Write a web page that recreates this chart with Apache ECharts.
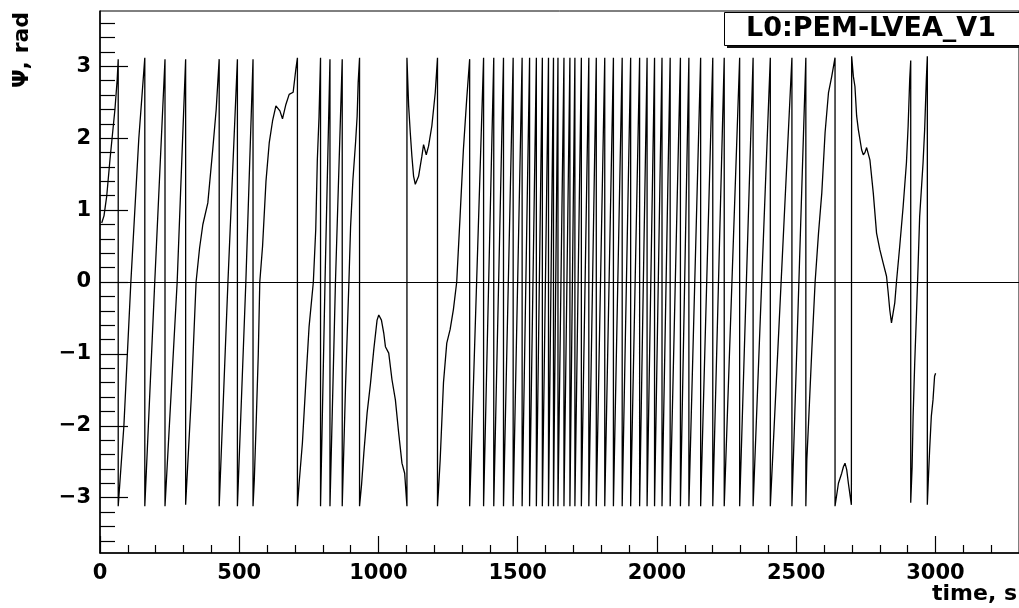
<!DOCTYPE html>
<html>
<head>
<meta charset="utf-8">
<title>L0:PEM-LVEA_V1 phase</title>
<script src="https://cdn.jsdelivr.net/npm/echarts@6.0.0/dist/echarts.min.js"></script>
<style>
  html, body { margin: 0; padding: 0; background: #fff; }
  #chart { width: 1019px; height: 608px; }
</style>
</head>
<body>
<div id="chart"></div>
<script>
// phase Psi (rad) vs time (s)
// first part (0 - 1330 s): slow, partly curved ramps
var earlyPts = [
  [6.1, 0.82], [14.3, 0.92], [24.0, 1.19], [35.8, 1.70], [45.4, 2.08], [53.6, 2.40], [61.8, 2.82], [65.4, 3.10],
  [65.4, -3.12], [85.8, -2.0], [110.8, 0], [139.4, 2.0], [160.9, 3.12],
  [160.9, -3.12], [196.6, 0], [233.4, 3.10],
  [233.4, -3.12], [277.1, 0], [307.5, 3.10],
  [307.5, -3.10], [327.8, -1.6], [345.0, 0], [357.5, 0.47], [369.3, 0.8], [387.2, 1.1], [405.0, 1.85], [417.2, 2.4], [428.0, 3.10],
  [428.0, -3.12], [459.4, 0], [493.4, 3.10],
  [493.4, -3.12], [523.7, 0], [549.5, 3.10],
  [549.5, -3.12], [554.1, -2.75], [561.3, -1.9], [568.4, -1.0], [573.8, 0], [583.8, 0.5], [596.0, 1.4], [607.8, 1.94],
  [619.6, 2.24], [631.7, 2.45], [637.4, 2.47], [646.0, 2.38], [655.3, 2.27], [667.5, 2.47], [679.3, 2.61], [693.6, 2.64],
  [703.2, 2.96], [708.9, 3.12],
  [708.9, -3.12], [715.0, -2.8], [726.8, -2.24], [738.9, -1.41], [750.8, -0.62], [766.1, 0], [774.7, 0.73], [780.4, 1.7],
  [786.5, 2.3], [791.9, 3.12],
  [791.9, -3.12], [808.0, 0], [825.8, 3.10],
  [825.8, -3.12], [845.5, 0], [869.8, 3.10],
  [869.8, -3.12], [882.0, -1.41], [893.8, 0], [899.8, 0.77], [908.1, 1.42], [917.7, 1.94], [923.4, 2.31], [927.0, 2.77], [932.0, 3.12],
  [932.0, -3.12], [939.2, -2.82], [947.4, -2.38], [959.2, -1.82], [971.3, -1.41], [983.1, -0.94], [994.9, -0.53], [1001, -0.46],
  [1010.6, -0.53], [1018.9, -0.71], [1024.9, -0.9], [1036.8, -0.99], [1048.5, -1.36], [1060.7, -1.64], [1072.5, -2.1],
  [1084.3, -2.52], [1094, -2.66], [1102.2, -3.12],
  [1102.2, 3.12], [1108.3, 2.45], [1114.3, 2.07], [1120.0, 1.75], [1126.1, 1.47], [1132.2, 1.36], [1144.0, 1.47], [1155.8, 1.75],
  [1161.9, 1.91], [1171.5, 1.77], [1179.8, 1.89], [1191.6, 2.17], [1203.7, 2.63], [1211.9, 3.12],
  [1211.9, -3.12], [1215.5, -2.89], [1221.6, -2.47], [1233.4, -1.40], [1245.2, -0.85], [1257.3, -0.66], [1269.1, -0.38],
  [1280.9, 0], [1293.1, 0.92], [1304.9, 1.84], [1316.7, 2.54], [1327.4, 3.10]
];

// dense part: times (s) where the phase wraps from +pi to -pi
var wrapTimes = [
  1327.4, 1377.4, 1413.9, 1448.9, 1483.6, 1515.8, 1542.6, 1566.9, 1588.4, 1610.5,
  1628.4, 1644.5, 1666, 1687.4, 1705.3, 1728.5, 1755.3, 1782.1, 1812.5, 1843.6,
  1875.1, 1905.5, 1937.7, 1964.5, 1991.3, 2018.1, 2047.4, 2084.2, 2114.6, 2156.8,
  2200.4, 2241.5, 2296.9, 2345.2, 2407.0, 2484.6, 2534.6
];
var wrapTop = 3.12, wrapBottom = -3.12;

// last part (2535 - 3000 s)
var latePts = [
  [2534.6, -3.12], [2538.2, -2.47], [2544.3, -1.96], [2556.1, -0.94], [2567.9, 0], [2580.1, 0.68], [2591.9, 1.24],
  [2603.7, 2.08], [2615.8, 2.63], [2627.6, 2.86], [2639.4, 3.12],
  [2639.4, -3.12], [2651.6, -2.8], [2663.4, -2.66], [2669.5, -2.57], [2675.2, -2.52], [2681.3, -2.61], [2687.3, -2.8], [2698.1, -3.1],
  [2699.1, 3.14], [2705.2, 2.86], [2710.9, 2.72], [2717, 2.31], [2723.1, 2.12], [2734.9, 1.84], [2740.9, 1.77], [2746.7, 1.80],
  [2752.8, 1.87], [2758.8, 1.87], [2764.6, 1.70], [2776.7, 1.24], [2788.5, 0.68], [2800.3, 0.45], [2812.5, 0.26], [2824.3, 0.08],
  [2830.3, -0.15], [2836.0, -0.39], [2842.1, -0.57], [2848.2, -0.55], [2853.9, -0.29], [2860, 0], [2871.8, 0.5], [2884, 1.05],
  [2895.8, 1.66], [2901.9, 2.17], [2907.6, 2.82], [2911.2, 3.08],
  [2911.2, -3.07], [2916.2, -2.57], [2919.8, -1.87], [2925.5, -1.13], [2931.5, -0.48], [2937.6, 0.22], [2943.3, 0.91],
  [2955.5, 1.66], [2961.2, 2.12], [2967.3, 2.82], [2970.8, 3.14],
  [2970.8, -3.1], [2974.4, -2.75], [2979.0, -2.34], [2985.1, -1.87], [2991.2, -1.64], [2996.9, -1.31], [3000.5, -1.27]
];

// axis ticks
var xMajor = [0, 500, 1000, 1500, 2000, 2500, 3000];
var xMinor = [100, 200, 300, 400, 600, 700, 800, 900, 1100, 1200, 1300, 1400, 1600, 1700, 1800, 1900,
  2100, 2200, 2300, 2400, 2600, 2700, 2800, 2900, 3100, 3200];
var yMajor = [-3, -2, -1, 0, 1, 2, 3];
var yMinor = [-3.6, -3.4, -3.2, -2.8, -2.6, -2.4, -2.2, -1.8, -1.6, -1.4, -1.2, -0.8, -0.6, -0.4, -0.2,
  0.2, 0.4, 0.6, 0.8, 1.2, 1.4, 1.6, 1.8, 2.2, 2.4, 2.6, 2.8, 3.2, 3.4, 3.6];

// join the pieces into one polyline (wraps show as vertical jumps)
var phase = earlyPts.slice();
for (var i = 0; i < wrapTimes.length - 1; i++) {
  phase.push([wrapTimes[i], wrapBottom]);
  phase.push([wrapTimes[i + 1], wrapTop]);
}
phase = phase.concat(latePts);

var font = 'DejaVu Sans';
var labelStyle = { color: '#000', fontFamily: font, fontWeight: 'bold', fontSize: 21 };

var chart = echarts.init(document.getElementById('chart'), null, { renderer: 'canvas' });
var option = {
  animation: false,
  backgroundColor: '#fff',
  grid: { left: 100, top: 11, width: 923, height: 542, show: true, borderColor: '#000', borderWidth: 1, backgroundColor: 'transparent' },
  xAxis: [
    {
      type: 'value', min: 0, max: 3300, position: 'bottom',
      axisLine: { show: true, onZero: false, lineStyle: { color: '#000', width: 1.5 } },
      axisTick: { show: true, inside: true, length: 17, customValues: xMajor, lineStyle: { color: '#000', width: 1.2 } },
      axisLabel: Object.assign({
        margin: 10, customValues: xMajor,
        formatter: function (v) { return String(v); }
      }, labelStyle),
      splitLine: { show: false }
    },
    {
      type: 'value', min: 0, max: 3300, position: 'bottom',
      axisLine: { show: false, onZero: false },
      axisTick: { show: true, inside: true, length: 8, customValues: xMinor, lineStyle: { color: '#000', width: 1.2 } },
      axisLabel: { show: false },
      splitLine: { show: false }
    }
  ],
  yAxis: [
    {
      type: 'value', min: -3.77, max: 3.77, position: 'left',
      axisLine: { show: true, onZero: false, lineStyle: { color: '#000', width: 1.5 } },
      axisTick: { show: true, inside: true, length: 28, customValues: yMajor, lineStyle: { color: '#000', width: 1.2 } },
      axisLabel: Object.assign({
        margin: 9, customValues: yMajor,
        formatter: function (v) { return v < 0 ? '\u2212' + Math.abs(v) : String(v); }
      }, labelStyle),
      splitLine: { show: false }
    },
    {
      type: 'value', min: -3.77, max: 3.77, position: 'left',
      axisLine: { show: false, onZero: false },
      axisTick: { show: true, inside: true, length: 15, customValues: yMinor, lineStyle: { color: '#000', width: 1.2 } },
      axisLabel: { show: false },
      splitLine: { show: false }
    }
  ],
  series: [{
    type: 'line',
    xAxisIndex: 0,
    yAxisIndex: 0,
    data: phase,
    showSymbol: false,
    symbol: 'none',
    clip: true,
    lineStyle: { color: '#000', width: 1.3 },
    markLine: {
      silent: true,
      symbol: 'none',
      label: { show: false },
      lineStyle: { color: '#000', type: 'solid', width: 1.2 },
      data: [{ yAxis: 0 }]
    }
  }],
  graphic: [
    // channel name box with ROOT-like shadow
    { type: 'rect', left: 727, top: 15, shape: { width: 300, height: 33 }, style: { fill: '#111' }, z: 100 },
    { type: 'rect', left: 724, top: 12, shape: { width: 300, height: 33 }, style: { fill: '#fff', stroke: '#000', lineWidth: 1 }, z: 101 },
    {
      type: 'text', x: 871, y: 29, z: 102,
      style: { text: 'L0:PEM-LVEA_V1', fill: '#000', font: 'bold 27px "DejaVu Sans"', textAlign: 'center', textVerticalAlign: 'middle' }
    },
    // axis titles
    {
      type: 'text', x: 1017, y: 594, z: 102,
      style: { text: 'time, s', fill: '#000', font: 'bold 22px "DejaVu Sans"', textAlign: 'right', textVerticalAlign: 'middle' }
    },
    {
      type: 'text', x: 22, y: 50, rotation: Math.PI / 2, z: 102,
      style: { text: '\u03A8, rad', fill: '#000', font: 'bold 22px "DejaVu Sans"', textAlign: 'center', textVerticalAlign: 'middle' }
    }
  ]
};
chart.setOption(option);
window.addEventListener('resize', function () { chart.resize(); });
</script>
</body>
</html>
